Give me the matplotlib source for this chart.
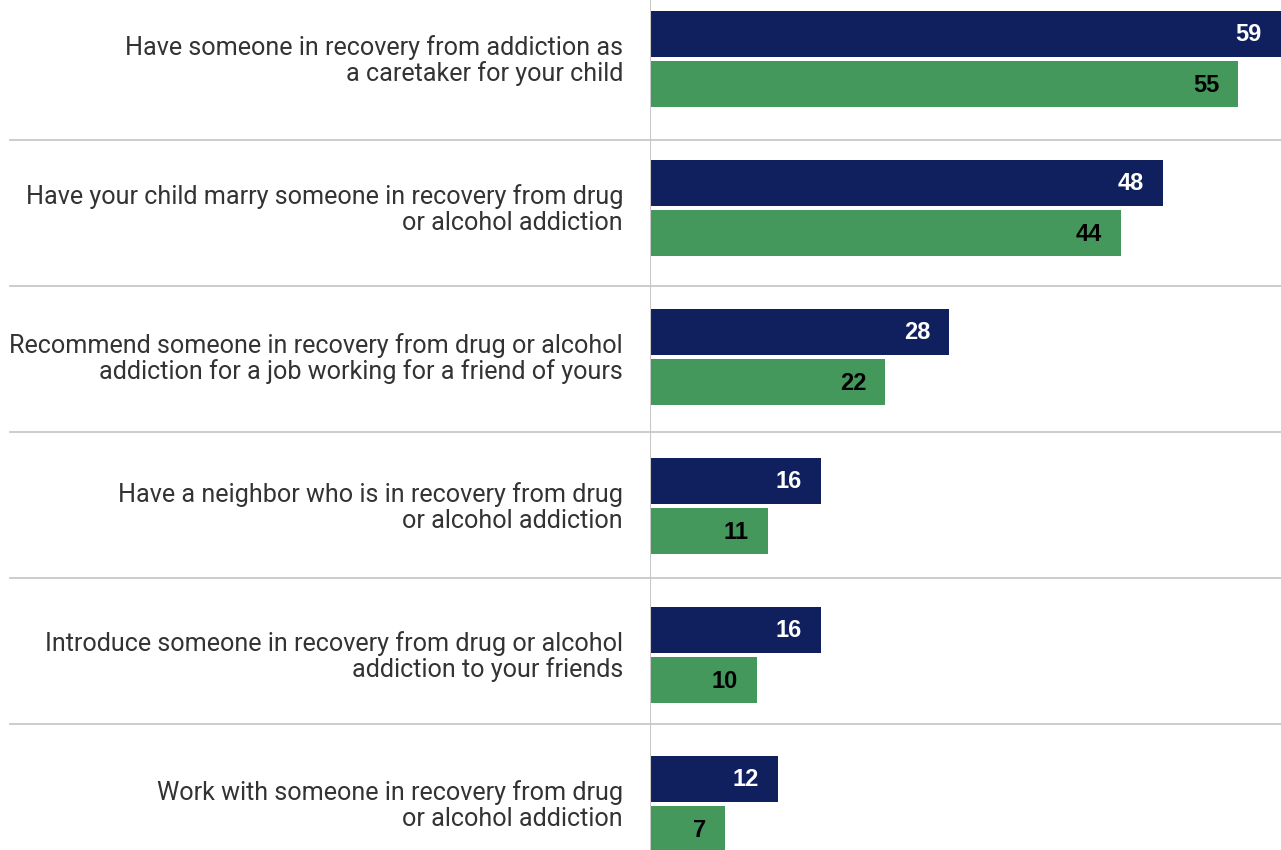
import numpy as np
import matplotlib
matplotlib.use('Agg')
import matplotlib.pyplot as plt

categories = [
    'Have someone in recovery from addiction as\na caretaker for your child',
    'Have your child marry someone in recovery from drug\nor alcohol addiction',
    'Recommend someone in recovery from drug or alcohol\naddiction for a job working for a friend of yours',
    'Have a neighbor who is in recovery from drug\nor alcohol addiction',
    'Introduce someone in recovery from drug or alcohol\naddiction to your friends',
    'Work with someone in recovery from drug\nor alcohol addiction',
]
navy_vals = [59, 48, 28, 16, 16, 12]
green_vals = [55, 44, 22, 11, 10, 7]

navy = '#10205f'
green = '#44985c'
grid_col = '#c8c8c8'

fig = plt.figure(figsize=(12.81, 8.5), dpi=100)
ax = fig.add_axes([650 / 1281, 0, 1 - 650 / 1281, 1])

y = np.arange(len(categories))
h = 0.309
off = 0.171
ax.barh(y - off, navy_vals, height=h, color=navy, zorder=2)
ax.barh(y + off, green_vals, height=h, color=green, zorder=2)

ax.set_xlim(0, 59)
ax.set_ylim((850 - 59) / 149, -59 / 149)

# value labels inside the bar ends
for yi, v in zip(y, navy_vals):
    ax.annotate(str(v), (v, yi - off), xytext=(-19, -1), textcoords='offset pixels',
                ha='right', va='center', color='white', fontsize=17,
                fontweight='bold', family='Liberation Sans', zorder=3)
for yi, v in zip(y, green_vals):
    ax.annotate(str(v), (v, yi + off), xytext=(-19, -1), textcoords='offset pixels',
                ha='right', va='center', color='black', fontsize=17,
                fontweight='bold', family='Liberation Sans', zorder=3)

# category labels to the left of the axis
for yi, lab in zip(y, categories):
    ax.annotate(lab, (0, yi), xytext=(-27, -1.5), textcoords='offset pixels',
                ha='right', va='center', multialignment='right',
                color='#333333', fontsize=18.1, family='Roboto',
                linespacing=1.08, annotation_clip=False)

# separators between groups, reaching into the label area
sep_y = [(p - 59) / 149 for p in (140, 286, 432, 578, 724)]
trans = ax.get_yaxis_transform()
for s in sep_y:
    ax.plot([-(640 / 631), 1], [s, s], transform=trans, color=grid_col,
            lw=1.3, clip_on=False, zorder=1)

ax.axvline(0, color=grid_col, lw=1.5, zorder=3)

for sp in ax.spines.values():
    sp.set_visible(False)
ax.set_xticks([])
ax.set_yticks([])

fig.savefig('out.png', dpi=100)
